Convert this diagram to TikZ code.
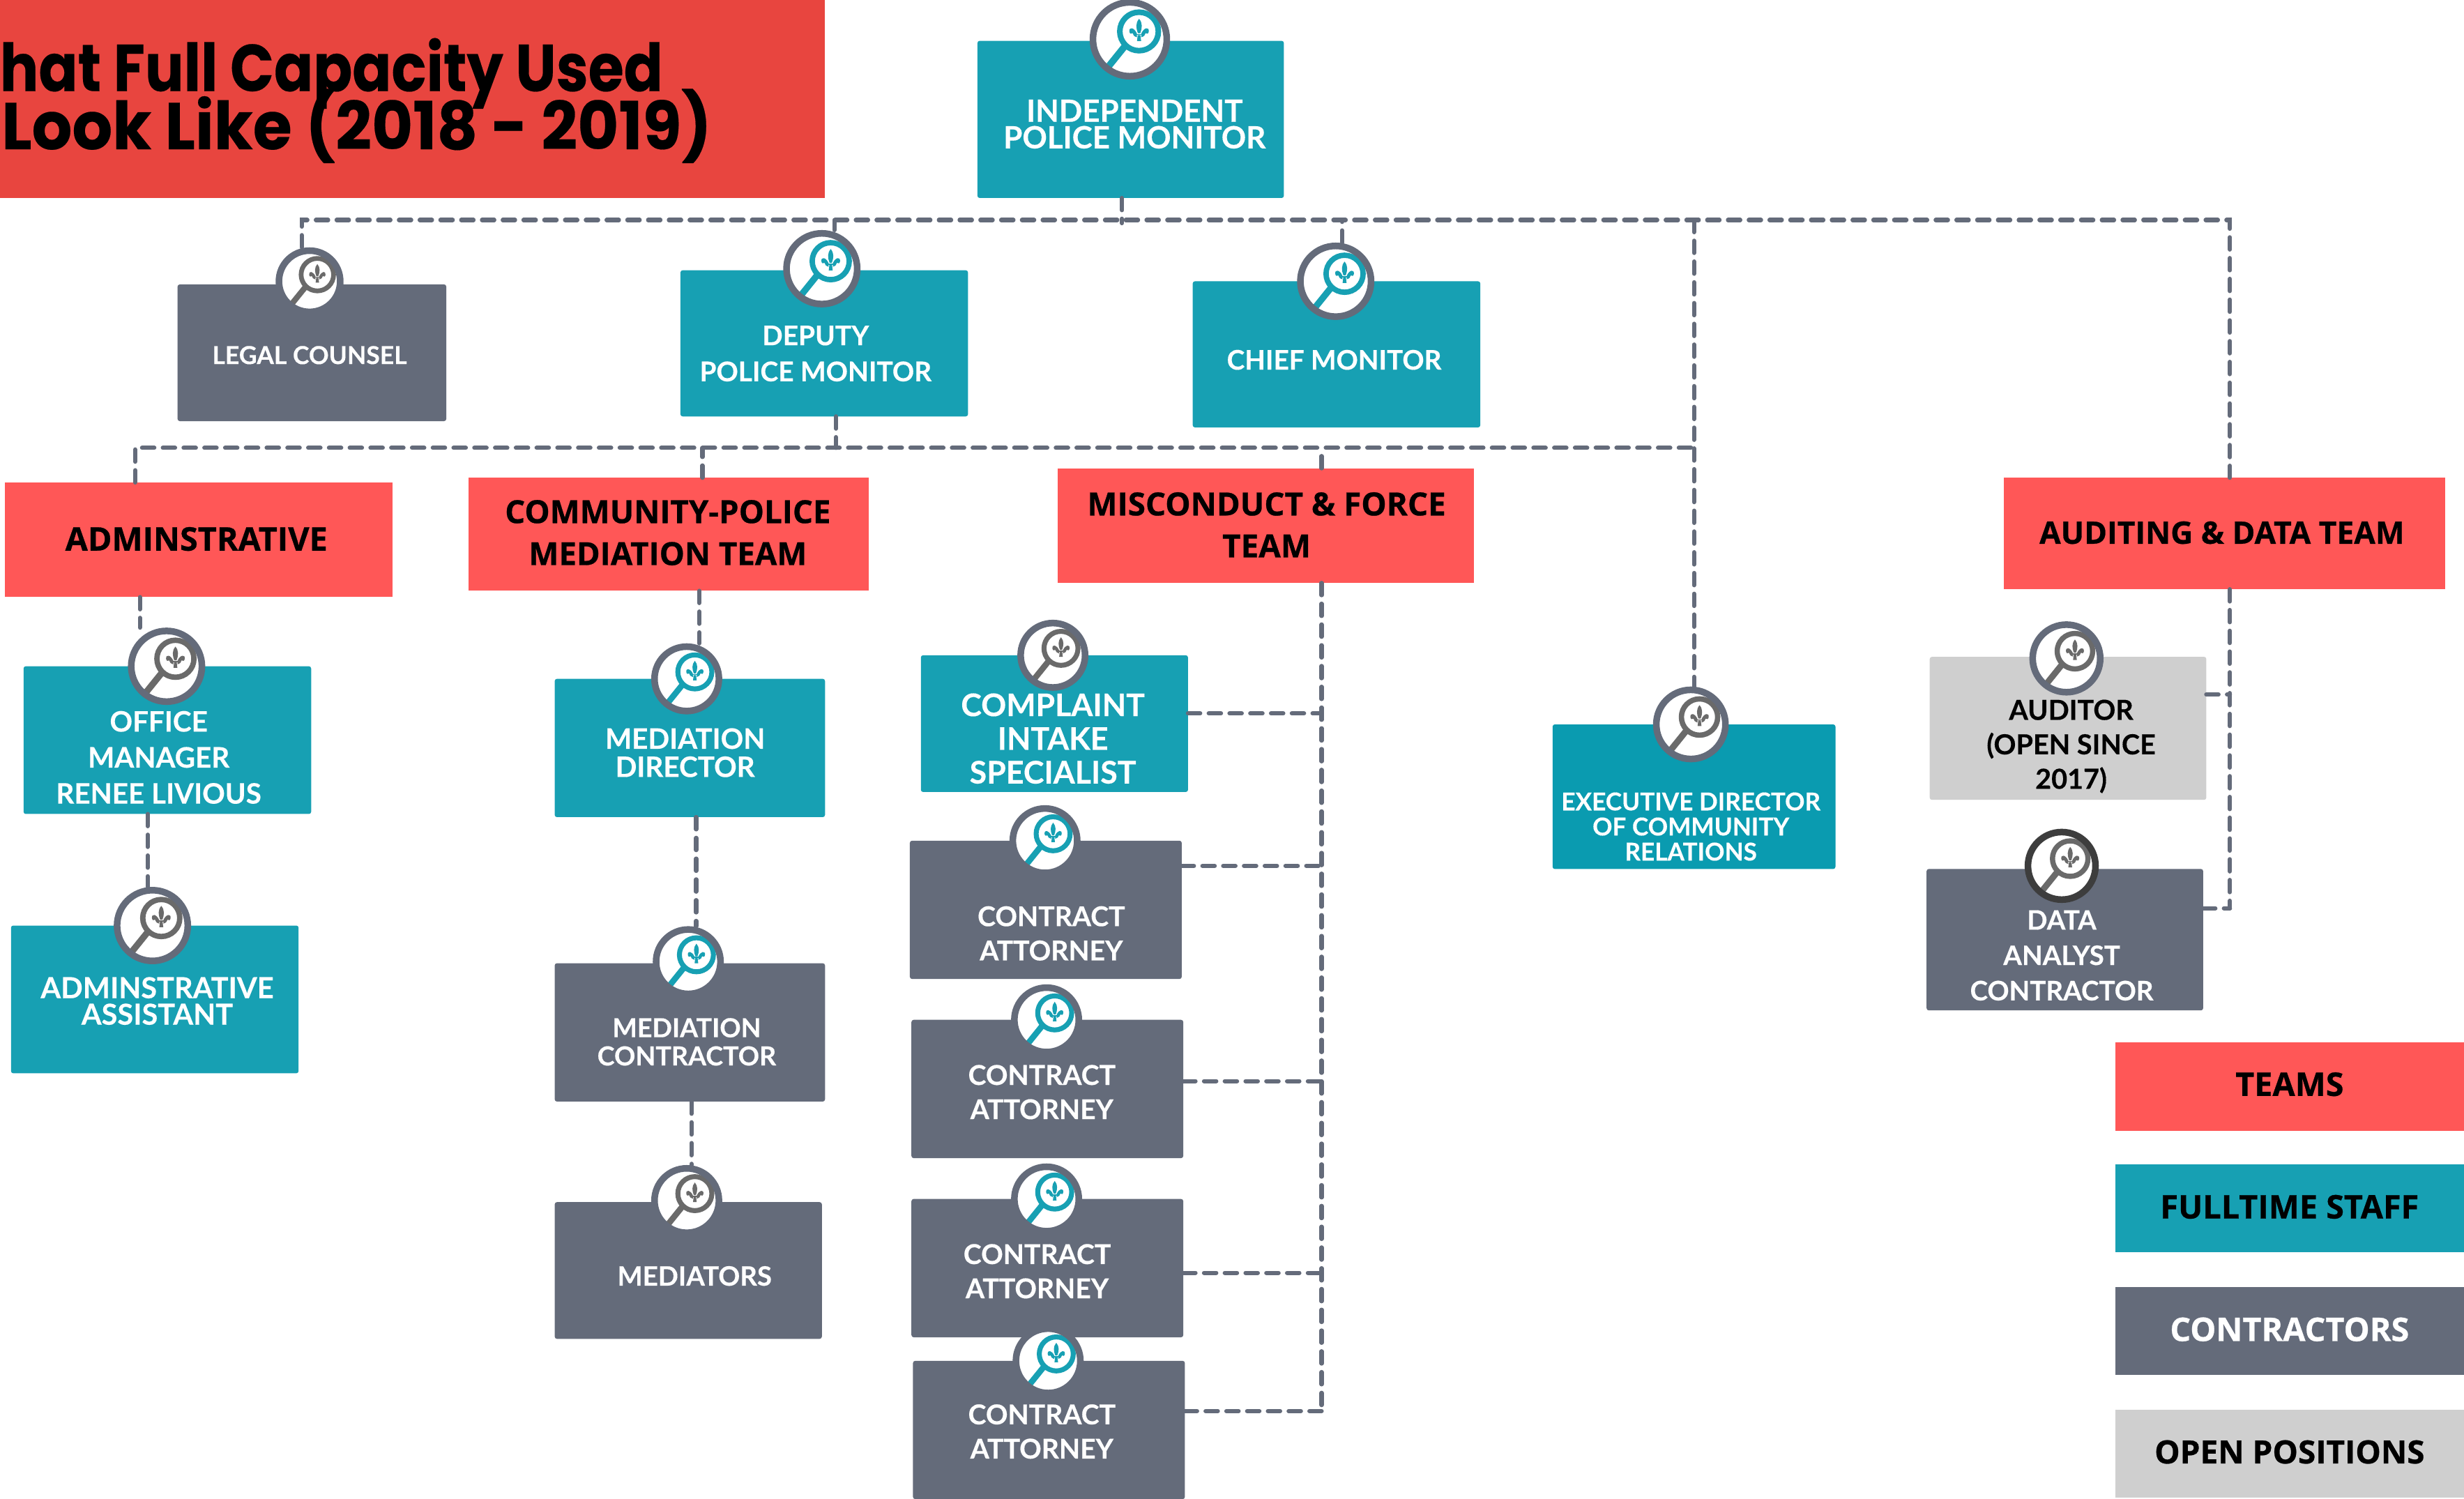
\documentclass[tikz,border=0pt]{standalone}
\usepackage{fontspec}
\usepackage{xcolor}
\usetikzlibrary{positioning, shapes, shapes.geometric}
\setmainfont[BoldFeatures={FakeBold=0.3}]{Lato}
\newfontfamily\titlefont[BoldFeatures={FakeBold=0.2}]{Poppins}
\newfontfamily\teamfont[BoldFeatures={FakeBold=0.6}]{Open Sans}
\definecolor{staffteal}{HTML}{17A0B3}
\definecolor{execteal}{HTML}{0A9BB0}
\definecolor{slategrey}{HTML}{646B7A}
\definecolor{openrey}{HTML}{CFCFCF}
\definecolor{teamred}{HTML}{FF5757}
\definecolor{titlered}{HTML}{E8453F}
\definecolor{lensgrey}{HTML}{6A6A6A}
\definecolor{darkring}{HTML}{3D3D3D}
\tikzset{
	size/.style 2 args={minimum width=#1*0.5mm, minimum height=#2*0.5mm, inner sep=0pt, outer sep=0pt},
	staff/.style={rectangle, rounded corners=2pt, fill=staffteal},
	contractor/.style={rectangle, rounded corners=2pt, fill=slategrey},
	openpos/.style={rectangle, rounded corners=2pt, fill=openrey},
	team/.style={rectangle, fill=teamred},
	whitetext/.style 2 args={text=white, align=center, inner sep=0pt, font=\fontsize{#1}{#2}\selectfont\bfseries},
	blacktext/.style 2 args={text=black, align=center, inner sep=0pt, font=\fontsize{#1}{#2}\selectfont\bfseries},
	teamtext/.style 2 args={text=black, align=center, inner sep=0pt, font=\teamfont\fontsize{#1}{#2}\selectfont\bfseries},
	titletext/.style={text=black, inner sep=0pt, anchor=base east, font=\titlefont\fontsize{60}{60}\selectfont\bfseries},
	dline/.style={draw=slategrey, line width=3.9pt, line cap=round, dash pattern=on 11pt off 7.8pt},
	glass/.style n args={3}{circle, draw=#1, fill=white, line width=6pt, inner sep=0pt, outer sep=3pt,
		minimum size={(#3-4)*0.5mm},
		path picture={
			\begin{scope}[shift={(path picture bounding box.center)}, x={#3*0.5mm/47}, y={#3*-0.5mm/47}]
				\draw[#2, line width=#3*0.042mm] (-2.5,3.5) -- (-15,19);
				\draw[#2, line width=#3*0.035mm, fill=white] (5.4,-4.6) circle (11.3);
				\fill[#2] (5.4,-12) .. controls (7.6,-9.5) and (7.2,-6.5) .. (6.1,-3.6) -- (4.7,-3.6) .. controls (3.6,-6.5) and (3.2,-9.5) .. (5.4,-12) -- cycle;
				\fill[#2] (4.1,-3.4) .. controls (2.5,-7) and (-0.5,-7.5) .. (-0.3,-4.6) .. controls (-0.2,-3.2) and (1,-2.8) .. (1.6,-3.6) .. controls (1.8,-2.4) and (2.6,-1.6) .. (4.1,-1.2) -- cycle;
				\fill[#2] (6.7,-3.4) .. controls (8.3,-7) and (11.3,-7.5) .. (11.1,-4.6) .. controls (11,-3.2) and (9.8,-2.8) .. (9.2,-3.6) .. controls (9,-2.4) and (8.2,-1.6) .. (6.7,-1.2) -- cycle;
				\fill[#2] (3.2,-3.2) rectangle (7.6,-2.4);
				\fill[#2] (4.6,-2.4) -- (6.2,-2.4) -- (6.6,1) -- (4.2,1) -- cycle;
			\end{scope}
		}},
}

\begin{document}
\begin{tikzpicture}[x=0.5mm, y=-0.5mm]
	\useasboundingbox[fill=white] (0,0) rectangle (1568,953.5);

	\node[size={525}{126}, fill=titlered] (titlebox) at (262.5,63) {};
	\node[titletext, xscale=0.87] (titlea) at (422,58) {hat Full Capacity Used};
	\node[titletext, xscale=0.955] (titleb) at (453,95) {Look Like (2018 - 2019)};

	\node[staff, size={195}{100}] (ipm) at (719.5,76) {};
	\node[contractor, size={171}{87}] (legal) at (198.5,224.5) {};
	\node[staff, size={183}{93}] (deputy) at (524.5,218.5) {};
	\node[staff, size={183}{93}] (chief) at (850.5,225.5) {};

	\node[team, size={247}{73}] (admin) at (126.5,343.5) {};
	\node[team, size={255}{72}] (community) at (425.5,340) {};
	\node[team, size={265}{73}] (misconduct) at (805.5,334.5) {};
	\node[team, size={281}{71}] (auditing) at (1415.5,339.5) {};

	\node[staff, size={183}{94}] (office) at (106.5,471) {};
	\node[staff, size={183}{94}] (assistant) at (98.5,636) {};
	\node[staff, size={172}{88}] (meddir) at (439,476) {};
	\node[contractor, size={172}{88}] (medcon) at (439,657) {};
	\node[contractor, size={170}{87}] (mediators) at (438,808.5) {};

	\node[staff, size={170}{87}] (complaint) at (671,460.5) {};
	\node[contractor, size={173}{88}] (attorneya) at (665.5,579) {};
	\node[contractor, size={173}{88}] (attorneyb) at (666.5,693) {};
	\node[contractor, size={173}{88}] (attorneyc) at (666.5,807) {};
	\node[contractor, size={173}{88}] (attorneyd) at (667.5,910) {};

	\node[rectangle, rounded corners=2pt, fill=execteal, size={180}{92}] (execdir) at (1078,507) {};
	\node[openpos, size={176}{91}] (auditor) at (1316,463.5) {};
	\node[contractor, size={176}{90}] (analyst) at (1314,598) {};

	\node[team, size={222}{56}] (keyteams) at (1457,691.5) {};
	\node[rectangle, fill=staffteal, size={222}{56}] (keystaff) at (1457,769) {};
	\node[rectangle, fill=slategrey, size={222}{56}] (keycontr) at (1457,847) {};
	\node[rectangle, fill=openrey, size={222}{56}] (keyopen) at (1457,925) {};

	\node[glass={slategrey}{staffteal}{51}] (icipm) at (719,25) {};
	\node[glass={slategrey}{lensgrey}{43}] (iclegal) at (197,179) {};
	\node[glass={slategrey}{staffteal}{49}] (icdeputy) at (523,171) {};
	\node[glass={slategrey}{staffteal}{49}] (icchief) at (850,179) {};
	\node[glass={slategrey}{lensgrey}{49}] (icoffice) at (106,424) {};
	\node[glass={slategrey}{lensgrey}{49}] (icassistant) at (97,589) {};
	\node[glass={slategrey}{staffteal}{45}] (icmeddir) at (437,432) {};
	\node[glass={slategrey}{staffteal}{45}] (icmedcon) at (438,612) {};
	\node[glass={slategrey}{lensgrey}{45}] (icmediators) at (437,764) {};
	\node[glass={slategrey}{lensgrey}{45}] (iccomplaint) at (670,417) {};
	\node[glass={slategrey}{staffteal}{45}] (icattorneya) at (665,535) {};
	\node[glass={slategrey}{staffteal}{45}] (icattorneyb) at (666,649) {};
	\node[glass={slategrey}{staffteal}{45}] (icattorneyc) at (666,763) {};
	\node[glass={slategrey}{staffteal}{45}] (icattorneyd) at (667,866) {};
	\node[glass={slategrey}{lensgrey}{48}] (icexecdir) at (1076,461) {};
	\node[glass={slategrey}{lensgrey}{47}] (icauditor) at (1315,419) {};
	\node[glass={darkring}{lensgrey}{47}] (icanalyst) at (1312,551) {};

	\node[whitetext={27.7}{24}] (ipmtext) at (722,79) {INDEPENDENT\\POLICE MONITOR};
	\node[whitetext={22.4}{24}] (legaltext) at (197,226) {LEGAL COUNSEL};
	\node[whitetext={24.5}{32.6}] (deputytext) at (519,225) {DEPUTY\\POLICE MONITOR};
	\node[whitetext={24.4}{24}] (chieftext) at (849,229) {CHIEF MONITOR};

	\node[teamtext={29.5}{30}] (admintext) at (125,343) {ADMINSTRATIVE};
	\node[teamtext={28.8}{38}] (communitytext) at (425,339) {COMMUNITY-POLICE\\MEDIATION TEAM};
	\node[teamtext={28.9}{38}] (misconducttext) at (806,334) {MISCONDUCT \& FORCE\\TEAM};
	\node[teamtext={28}{30}] (auditingtext) at (1414,339) {AUDITING \& DATA TEAM};

	\node[whitetext={25.5}{32.6}] (officetext) at (101,482) {OFFICE\\MANAGER\\RENEE LIVIOUS};
	\node[whitetext={26.2}{24}] (assistanttext) at (100,637) {ADMINSTRATIVE\\ASSISTANT};
	\node[whitetext={25.5}{25.5}] (meddirtext) at (436,479) {MEDIATION\\DIRECTOR};
	\node[whitetext={23.7}{25.5}] (medcontext) at (437,663) {MEDIATION\\CONTRACTOR};
	\node[whitetext={24.2}{25.5}] (mediatorstext) at (442,812) {MEDIATORS};

	\node[whitetext={28.2}{30.5}] (complainttext) at (670,470) {COMPLAINT\\INTAKE\\SPECIALIST};
	\node[whitetext={24.7}{31}] (attorneyatext) at (669,594) {CONTRACT\\ATTORNEY};
	\node[whitetext={24.7}{31}] (attorneybtext) at (663,695) {CONTRACT\\ATTORNEY};
	\node[whitetext={24.7}{31}] (attorneyctext) at (660,809) {CONTRACT\\ATTORNEY};
	\node[whitetext={24.7}{31}] (attorneydtext) at (663,911) {CONTRACT\\ATTORNEY};

	\node[whitetext={22.2}{22.7}] (execdirtext) at (1076,526) {EXECUTIVE DIRECTOR\\OF COMMUNITY\\RELATIONS};
	\node[blacktext={25}{31.2}] (auditortext) at (1318,475) {AUDITOR\\(OPEN SINCE\\2017)};
	\node[whitetext={24.3}{32}] (analysttext) at (1312,608) {DATA\\ANALYST\\CONTRACTOR};

	\node[teamtext={29.5}{30}] (keyteamstext) at (1457,690) {TEAMS};
	\node[teamtext={29.5}{30}] (keystafftext) at (1457,768) {FULLTIME STAFF};
	\node[teamtext={29.5}{30}, text=white] (keycontrtext) at (1457,846) {CONTRACTORS};
	\node[teamtext={29}{30}] (keyopentext) at (1457,924) {OPEN POSITIONS};

	\coordinate (busa) at (192,140);
	\coordinate (busb) at (1419,140);
	\coordinate (busc) at (86,285);
	\coordinate (busd) at (1078,285);
	\coordinate (drop) at (841,898);
	\coordinate (dropaudit) at (1419,578);

	\draw[dline] (iclegal.north -| busa) -- (busa) -- (busb) -- (auditing.north -| busb);
	\draw[dline] (ipm.south -| 714,0) -- (714,142);
	\draw[dline] (icdeputy.north -| 531,0) -- (531,140);
	\draw[dline] (icchief.north -| 854,0) -- (854,140);
	\draw[dline] (1078,140) -- (icexecdir.north -| busd);
	\draw[dline] (deputy.south -| 532,0) -- (532,285);
	\draw[dline] (admin.north -| busc) -- (busc) -- (busd);
	\draw[dline] (community.north -| 447,0) -- (447,285);
	\draw[dline] (misconduct.north -| drop) -- (841,285);

	\draw[dline] (admin.south -| 89,0) -- (icoffice.north -| 89,0);
	\draw[dline] (office.south -| 94,0) -- (icassistant.north -| 94,0);
	\draw[dline] (community.south -| 445,0) -- (icmeddir.north -| 445,0);
	\draw[dline] (meddir.south -| 443,0) -- (icmedcon.north -| 443,0);
	\draw[dline] (medcon.south -| 440,0) -- (icmediators.north -| 440,0);

	\draw[dline] (misconduct.south -| drop) -- (drop);
	\draw[dline] (complaint.east |- 0,454) -- (841,454);
	\draw[dline] (attorneya.east |- 0,551) -- (841,551);
	\draw[dline] (attorneyb.east |- 0,688) -- (841,688);
	\draw[dline] (attorneyc.east |- 0,810) -- (841,810);
	\draw[dline] (attorneyd.east |- drop) -- (drop);

	\draw[dline] (auditing.south -| dropaudit) -- (dropaudit);
	\draw[dline] (auditor.east |- 0,442) -- (1419,442);
	\draw[dline] (analyst.east |- dropaudit) -- (dropaudit);

\end{tikzpicture}
\end{document}
